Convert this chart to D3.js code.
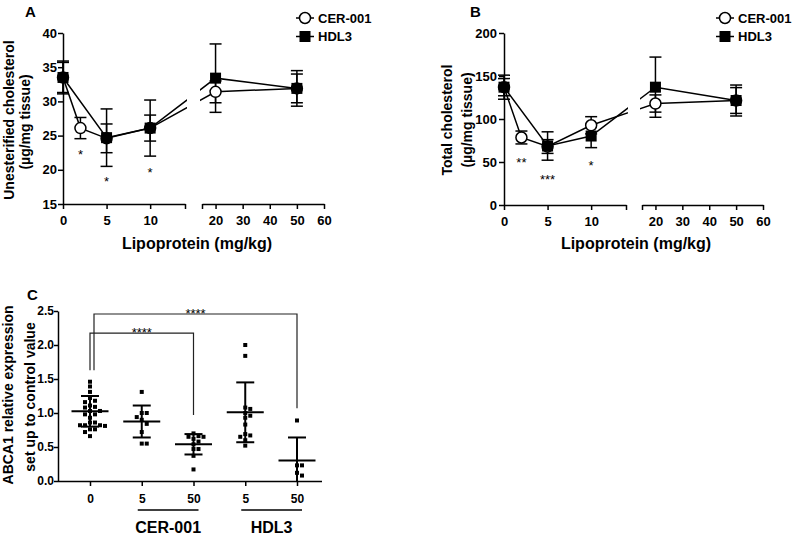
<!DOCTYPE html>
<html><head><meta charset="utf-8">
<script src="https://cdn.jsdelivr.net/npm/d3@7"></script>
<style>
body{margin:0;background:#fff;}
svg{display:block;font-family:"Liberation Sans",Arial,Helvetica,sans-serif;}
</style></head><body>
<svg id="chart" width="793" height="538"></svg>
<script>
// ---------- DATA ----------
const xCer = [0, 2, 5, 10, 20, 50];
const xHdl = [0, 5, 10, 20, 50];
const seriesNames = ["CER-001", "HDL3"];
const seg1Ticks = [0, 5, 10, 14];
const seg2Ticks = [15, 20, 30, 40, 50, 60];

// Panel A: unesterified cholesterol (µg/mg tissue)
const cerA = [33.5, 26.1, 24.6, 26.1, 31.4, 31.9];
const cerAErr = [2.4, 1.55, 2.1, 1.9, 1.6, 2.6];
const hdlA = [33.5, 24.7, 26.1, 33.4, 31.9];
const hdlAErr = [2.2, 4.2, 4.1, 5.0, 2.1];
const yTicksA = [15, 20, 25, 30, 35, 40];
const sigA = [{x: 2, y: 22.6, t: "*"}, {x: 5, y: 18.65, t: "*"}, {x: 10, y: 19.97, t: "*"}];

// Panel B: total cholesterol (µg/mg tissue)
const cerB = [137, 78.5, 68, 92.7, 118, 121.5];
const cerBErr = [14, 7.5, 8, 10, 10, 18];
const hdlB = [137, 68.6, 80.2, 137, 121.5];
const hdlBErr = [10, 16.5, 13.5, 35, 15];
const yTicksB = [0, 50, 100, 150, 200];
const sigB = [{x: 2, y: 52.3, t: "**"}, {x: 5, y: 32.9, t: "***"}, {x: 10, y: 49.2, t: "*"}];

// Panel C: ABCA1 relative expression
const groupKeys = ["ctrl", "cer5", "cer50", "hdl5", "hdl50"];
const groupLabels = ["0", "5", "50", "5", "50"];
const ctrlPts = [1.46, 1.39, 1.31, 1.22, 1.18, 1.16, 1.11, 1.09, 1.08, 1.03, 1.03, 0.98, 0.98, 0.93, 0.86, 0.86, 0.82, 0.82, 0.82, 0.81, 0.76, 0.76, 0.72, 0.66];
const cer5Pts = [1.31, 1.00, 1.00, 0.94, 0.90, 0.84, 0.72, 0.55, 0.55];
const cer50Pts = [0.70, 0.66, 0.65, 0.65, 0.62, 0.58, 0.54, 0.47, 0.47, 0.37, 0.17];
const hdl5Pts = [2.00, 1.84, 1.08, 1.06, 1.00, 0.96, 0.93, 0.83, 0.69, 0.67, 0.65, 0.60, 0.52];
const hdl50Pts = [0.89, 0.23, 0.23, 0.12, 0.08];
const groupMeans = [1.025, 0.875, 0.54, 1.01, 0.30];
const groupSD = [0.225, 0.235, 0.15, 0.44, 0.34];
const yTicksC = [0, 0.5, 1.0, 1.5, 2.0, 2.5];
const brackets = [
  {from: "ctrl", to: "cer50", top: 2.176, leftEnd: 1.63, rightEnd: 0.97, label: "****"},
  {from: "ctrl", to: "hdl50", top: 2.456, leftEnd: 1.63, rightEnd: 1.07, label: "****"}
];
const groupSets = [{name: "CER-001", keys: ["cer5", "cer50"]}, {name: "HDL3", keys: ["hdl5", "hdl50"]}];

// ---------- DRAWING ----------
const svg = d3.select("#chart");
const FONT_TICK = 13;

function styleAxis(g, fs) {
  g.selectAll("path.domain").attr("stroke", "#000").attr("stroke-width", 1.5);
  g.selectAll(".tick line").attr("stroke", "#000").attr("stroke-width", 1.5);
  g.selectAll(".tick text").attr("fill", "#000").attr("font-size", fs).attr("font-weight", "bold")
    .attr("font-family", '"Liberation Sans",Arial,sans-serif');
}

function zip(xs, ys, es) { return xs.map((x, i) => ({x: x, y: ys[i], e: es[i]})); }

function drawPanel(o) {
  const g = svg.append("g");
  const xs1 = d3.scaleLinear().domain([0, 14]).range([o.x0, o.x1end]);
  const xs2 = d3.scaleLinear().domain([15, 60]).range([o.x2start, o.x2end]);
  const xp = v => (v <= 14 ? xs1(v) : xs2(v));
  const ys = d3.scaleLinear().domain(o.yDomain).range([o.yBot, o.yTop]);

  // axes
  const ya = g.append("g").attr("transform", `translate(${o.x0},0)`)
    .call(d3.axisLeft(ys).tickValues(o.yTicks).tickSize(5).tickPadding(o.yPad).tickSizeOuter(0));
  styleAxis(ya, FONT_TICK);
  const xa1 = g.append("g").attr("transform", `translate(0,${o.yBot})`)
    .call(d3.axisBottom(xs1).tickValues(seg1Ticks).tickFormat(d => (d === 14 ? "" : d)).tickSize(5).tickPadding(7).tickSizeOuter(0));
  styleAxis(xa1, FONT_TICK);
  const xa2 = g.append("g").attr("transform", `translate(0,${o.yBot})`)
    .call(d3.axisBottom(xs2).tickValues(seg2Ticks).tickFormat(d => (d === 15 ? "" : d)).tickSize(5).tickPadding(7).tickSizeOuter(0));
  styleAxis(xa2, FONT_TICK);

  // clip regions for the broken axis
  const c1 = o.id + "c1", c2 = o.id + "c2";
  const defs = svg.append("defs");
  defs.append("clipPath").attr("id", c1).append("rect")
    .attr("x", o.x0 - 20).attr("y", 0).attr("width", o.x1end + 2 - (o.x0 - 20)).attr("height", 300);
  defs.append("clipPath").attr("id", c2).append("rect")
    .attr("x", o.x2start - 2).attr("y", 0).attr("width", o.x2end + 40 - (o.x2start - 2)).attr("height", 300);

  const cer = zip(xCer, o.cer, o.cerErr);
  const hdl = zip(xHdl, o.hdl, o.hdlErr);
  const line = d3.line().x(d => xp(d.x)).y(d => ys(d.y));
  [c1, c2].forEach(c => {
    [cer, hdl].forEach(s => {
      g.append("path").datum(s).attr("d", line).attr("fill", "none")
        .attr("stroke", "#000").attr("stroke-width", 1.5).attr("clip-path", `url(#${c})`);
    });
  });

  // error bars
  const cap = 6;
  [cer, hdl].forEach(s => {
    s.forEach(d => {
      const cx = xp(d.x), y1 = ys(d.y + d.e), y2 = ys(d.y - d.e);
      g.append("line").attr("x1", cx).attr("x2", cx).attr("y1", y1).attr("y2", y2)
        .attr("stroke", "#000").attr("stroke-width", 1.5);
      [y1, y2].forEach(yy => g.append("line").attr("x1", cx - cap).attr("x2", cx + cap)
        .attr("y1", yy).attr("y2", yy).attr("stroke", "#000").attr("stroke-width", 1.5));
    });
  });

  // markers
  g.selectAll("circle.cer").data(cer).join("circle").attr("class", "cer")
    .attr("cx", d => xp(d.x)).attr("cy", d => ys(d.y)).attr("r", 5.5)
    .attr("fill", "#fff").attr("stroke", "#000").attr("stroke-width", 1.5);
  g.selectAll("rect.hdl").data(hdl).join("rect").attr("class", "hdl")
    .attr("x", d => xp(d.x) - 5.5).attr("y", d => ys(d.y) - 5.5)
    .attr("width", 11).attr("height", 11).attr("fill", "#000");

  // significance
  g.selectAll("text.sig").data(o.sig).join("text").attr("class", "sig")
    .attr("x", d => xp(d.x)).attr("y", d => ys(d.y) + 0.57 * 13)
    .attr("text-anchor", "middle").attr("font-size", 13).attr("fill", "#000").text(d => d.t);

  // legend
  seriesNames.forEach((n, i) => {
    const ly = 18 + i * 18.5, lx = o.legendX;
    g.append("line").attr("x1", lx).attr("x2", lx + 18).attr("y1", ly).attr("y2", ly)
      .attr("stroke", "#000").attr("stroke-width", 1.5);
    if (i === 0) {
      g.append("circle").attr("cx", lx + 9).attr("cy", ly).attr("r", 5.5)
        .attr("fill", "#fff").attr("stroke", "#000").attr("stroke-width", 1.5);
    } else {
      g.append("rect").attr("x", lx + 9 - 5.5).attr("y", ly - 5.5).attr("width", 11).attr("height", 11).attr("fill", "#000");
    }
    g.append("text").attr("x", lx + 22).attr("y", ly + 4.6).attr("font-size", 13)
      .attr("font-weight", "bold").attr("fill", "#000").text(n);
  });

  // titles
  g.append("text").attr("x", o.xTitleX).attr("y", 249).attr("text-anchor", "middle")
    .attr("font-size", 16).attr("font-weight", "bold").text("Lipoprotein (mg/kg)");
  o.yTitles.forEach(t => {
    g.append("text").attr("transform", `translate(${t.x},${t.yc}) rotate(-90)`)
      .attr("text-anchor", "middle").attr("font-size", 14).attr("font-weight", "bold").text(t.text);
  });
  g.append("text").attr("x", o.letterX).attr("y", 17).attr("font-size", 15)
    .attr("font-weight", "bold").text(o.letter);
}

drawPanel({
  id: "A", x0: 63, x1end: 185, x2start: 202, x2end: 324, yTop: 33, yBot: 204, yPad: 1,
  yDomain: [15, 40], yTicks: yTicksA, cer: cerA, cerErr: cerAErr, hdl: hdlA, hdlErr: hdlAErr,
  sig: sigA, legendX: 296, xTitleX: 197, letter: "A", letterX: 25,
  yTitles: [{text: "Unesterified cholesterol", x: 13.5, yc: 120}, {text: "(µg/mg tissue)", x: 30, yc: 122}]
});
drawPanel({
  id: "B", x0: 504, x1end: 626, x2start: 642, x2end: 763, yTop: 33, yBot: 205, yPad: 2,
  yDomain: [0, 200], yTicks: yTicksB, cer: cerB, cerErr: cerBErr, hdl: hdlB, hdlErr: hdlBErr,
  sig: sigB, legendX: 716, xTitleX: 636, letter: "B", letterX: 470,
  yTitles: [{text: "Total cholesterol", x: 452, yc: 120}, {text: "(µg/mg tissue)", x: 472, yc: 120}]
});

// ---------- Panel C ----------
(function () {
  const g = svg.append("g");
  const yC = d3.scaleLinear().domain([0, 2.5]).range([481, 311]);
  const xC = d3.scalePoint().domain(groupKeys).range([90, 297]);
  const ya = g.append("g").attr("transform", "translate(58,0)")
    .call(d3.axisLeft(yC).tickValues(yTicksC).tickFormat(d3.format(".1f")).tickSize(4).tickPadding(0).tickSizeOuter(0));
  styleAxis(ya, 12);
  const xa = g.append("g").attr("transform", "translate(0,481)")
    .call(d3.axisBottom(xC).tickFormat((d, i) => groupLabels[i]).tickSize(5).tickPadding(8).tickSizeOuter(0));
  xa.select("path.domain").attr("d", "M58,0.5H322");
  styleAxis(xa, 12);

  const allPts = [ctrlPts, cer5Pts, cer50Pts, hdl5Pts, hdl50Pts];
  // deterministic beeswarm placement
  allPts.forEach((pts, gi) => {
    const cx = xC(groupKeys[gi]);
    const placed = [];
    const sorted = pts.slice().sort((a, b) => b - a);
    const cands = [0, 5, -5, 10, -10, 15, -15, 20, -20];
    sorted.forEach(v => {
      const py = yC(v);
      let off = 0;
      for (const c of cands) {
        if (!placed.some(p => Math.abs(p.dx - c) < 5 && Math.abs(p.py - py) < 4.5)) { off = c; break; }
      }
      placed.push({dx: off, py: py});
      g.append("rect").attr("x", cx + off - 2).attr("y", py - 2).attr("width", 4).attr("height", 4).attr("fill", "#000");
    });
    // mean and SD
    const m = groupMeans[gi], sd = groupSD[gi];
    const yTop = yC(m + sd), yBotv = yC(Math.max(0, m - sd));
    g.append("line").attr("x1", cx - 18.5).attr("x2", cx + 18.5).attr("y1", yC(m)).attr("y2", yC(m))
      .attr("stroke", "#000").attr("stroke-width", 2);
    g.append("line").attr("x1", cx).attr("x2", cx).attr("y1", yTop).attr("y2", yBotv)
      .attr("stroke", "#000").attr("stroke-width", 2);
    g.append("line").attr("x1", cx - 9).attr("x2", cx + 9).attr("y1", yTop).attr("y2", yTop)
      .attr("stroke", "#000").attr("stroke-width", 2);
    if (m - sd > 0) {
      g.append("line").attr("x1", cx - 9).attr("x2", cx + 9).attr("y1", yBotv).attr("y2", yBotv)
        .attr("stroke", "#000").attr("stroke-width", 2);
    }
  });

  // brackets
  brackets.forEach((b, i) => {
    const xl = xC(b.from) + i * 4, xr = xC(b.to);
    g.append("path").attr("d", `M${xl},${yC(b.leftEnd)}V${yC(b.top)}H${xr}V${yC(b.rightEnd)}`)
      .attr("fill", "none").attr("stroke", "#222").attr("stroke-width", 1.2);
    g.append("text").attr("x", (xl + xr) / 2).attr("y", yC(b.top) - 3 + 0.57 * 13)
      .attr("text-anchor", "middle").attr("font-size", 13).attr("fill", "#000").text(b.label);
  });

  // group underline labels
  groupSets.forEach(s => {
    const x1 = xC(s.keys[0]) - 4, x2 = xC(s.keys[s.keys.length - 1]) + 5;
    g.append("line").attr("x1", x1).attr("x2", x2).attr("y1", 510).attr("y2", 510)
      .attr("stroke", "#000").attr("stroke-width", 1.5);
    g.append("text").attr("x", (x1 + x2) / 2).attr("y", 533).attr("text-anchor", "middle")
      .attr("font-size", 16).attr("font-weight", "bold").text(s.name);
  });

  // y titles & letter
  [{text: "ABCA1 relative expression", x: 13, yc: 395}, {text: "set up to control value", x: 35, yc: 397}].forEach(t => {
    g.append("text").attr("transform", `translate(${t.x},${t.yc}) rotate(-90)`)
      .attr("text-anchor", "middle").attr("font-size", 14).attr("font-weight", "bold").text(t.text);
  });
  g.append("text").attr("x", 27).attr("y", 300).attr("font-size", 15).attr("font-weight", "bold").text("C");
})();
</script>
</body></html>
